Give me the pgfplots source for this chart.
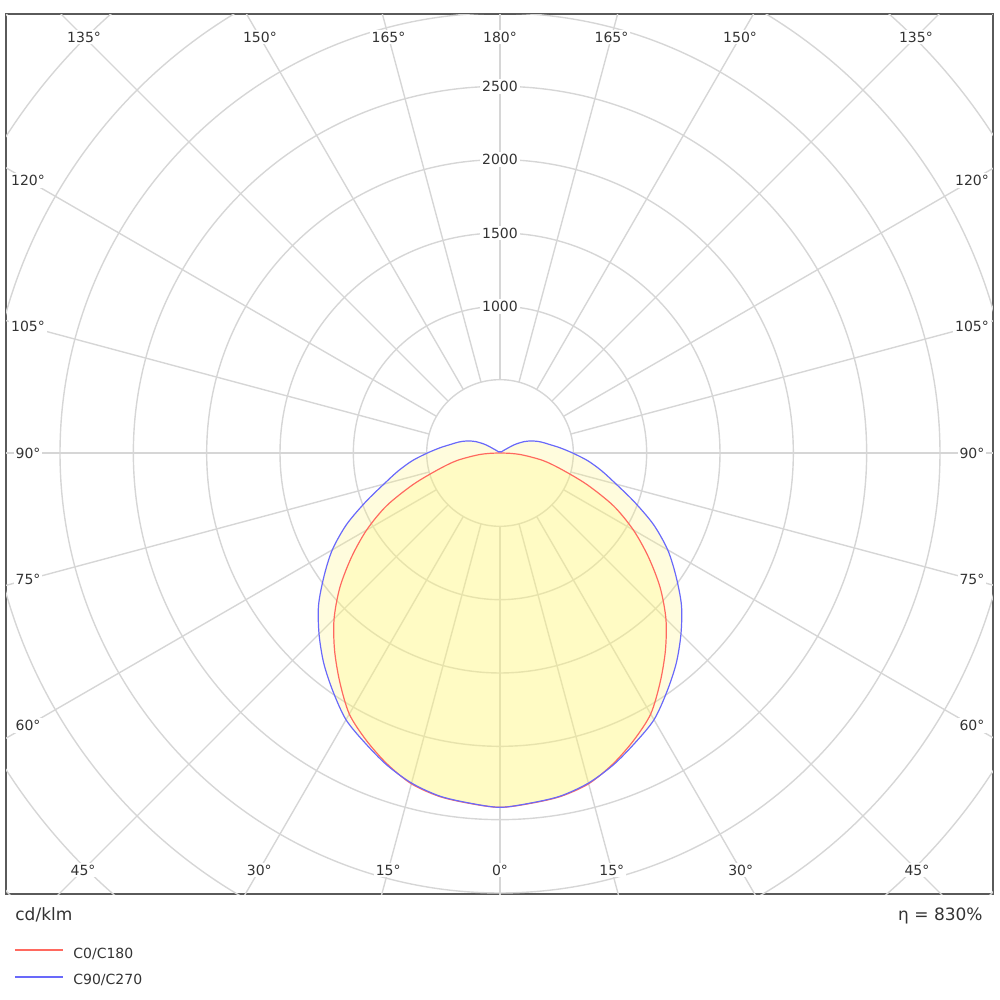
\documentclass[border=0pt]{standalone}
\usepackage{pgfplots}
\pgfplotsset{compat=1.18}
\usepackage{pgfplotstable}
\usepackage{fontspec}
\setmainfont{DejaVu Sans}
\definecolor{gridc}{RGB}{214,214,214}
\definecolor{txtc}{RGB}{51,51,51}
\definecolor{redc}{RGB}{255,105,95}
\definecolor{bluec}{RGB}{105,105,250}
\definecolor{fillc}{RGB}{255,245,120}
\definecolor{framec}{RGB}{90,90,90}
\tikzset{lab/.style={fill=white, inner sep=1pt, text=txtc, font=\fontsize{7pt}{8pt}\selectfont}}

% C0/C180, angle t from nadir (signed: left side negative), I in cd/klm
\pgfplotstableread{
t I
-90 0
-88 68
-85 155
-80 300
-75 437
-70 633
-65 855
-60 1050
-55 1235
-50 1425
-45 1600
-40 1755
-35 1905
-30 2055
-25 2160
-20 2255
-15 2335
-10 2378
-5 2398
0 2416
5 2398
10 2378
15 2335
20 2255
25 2160
30 2055
35 1905
40 1755
45 1600
50 1425
55 1235
60 1050
65 855
70 633
75 437
80 300
85 155
88 68
90 0
}\reddata

% C90/C270
\pgfplotstableread{
t I
-180 9
-165 9
-150 9
-140 9
-130 12
-125 30
-120 113
-115 185
-110 240
-105 290
-100 340
-95 410
-90 495
-85 600
-80 705
-75 820
-70 975
-65 1155
-60 1320
-55 1465
-50 1615
-45 1745
-40 1870
-35 1985
-30 2100
-25 2180
-20 2262
-15 2330
-10 2375
-5 2396
0 2416
5 2396
10 2375
15 2330
20 2262
25 2180
30 2100
35 1985
40 1870
45 1745
50 1615
55 1465
60 1320
65 1155
70 975
75 820
80 705
85 600
90 495
95 410
100 340
105 290
110 240
115 185
120 113
125 30
130 12
140 9
150 9
165 9
180 9
}\bluedata

\begin{document}
\begin{tikzpicture}
\useasboundingbox (-250pt,-273.5pt) rectangle (250pt,226.5pt);
\begin{axis}[
  anchor=origin, at={(0pt,0pt)},
  x=0.073333pt, y=0.073333pt,
  xmin=-3368, xmax=3361, ymin=-3007, ymax=2993,
  xtick=\empty, ytick=\empty,
  axis line style={draw=framec, line width=1pt},
]
\pgfplotsinvokeforeach{500,1000,...,4500}{\draw[gridc, line width=0.7pt] (axis cs:0,0) circle[radius=#1];}
\pgfplotsinvokeforeach{0,15,...,345}{\draw[gridc, line width=0.7pt] (axis cs:{500*cos(#1)},{500*sin(#1)}) -- (axis cs:{6000*cos(#1)},{6000*sin(#1)});}

\addplot[draw=none, fill=fillc, fill opacity=0.25, data cs=polar, smooth, forget plot]
  table[x expr=\thisrow{t}-90, y=I] {\bluedata};
\addplot[draw=none, fill=fillc, fill opacity=0.25, data cs=polar, smooth, forget plot]
  table[x expr=\thisrow{t}-90, y=I] {\reddata};
\addplot[draw=redc, line width=0.6pt, data cs=polar, smooth, forget plot]
  table[x expr=\thisrow{t}-90, y=I] {\reddata};
\addplot[draw=bluec, line width=0.6pt, data cs=polar, smooth, forget plot]
  table[x expr=\thisrow{t}-90, y=I] {\bluedata};

\node[lab] at (axis cs:-2836,2836) {135°};
\node[lab] at (axis cs:-1637,2836) {150°};
\node[lab] at (axis cs:-760,2836) {165°};
\node[lab] at (axis cs:0,2836) {180°};
\node[lab] at (axis cs:760,2836) {165°};
\node[lab] at (axis cs:1637,2836) {150°};
\node[lab] at (axis cs:2836,2836) {135°};
\node[lab] at (axis cs:-3218,1858) {120°};
\node[lab] at (axis cs:-3218,862) {105°};
\node[lab] at (axis cs:-3218,0) {90°};
\node[lab] at (axis cs:-3218,-862) {75°};
\node[lab] at (axis cs:-3218,-1858) {60°};
\node[lab] at (axis cs:3218,1858) {120°};
\node[lab] at (axis cs:3218,862) {105°};
\node[lab] at (axis cs:3218,0) {90°};
\node[lab] at (axis cs:3218,-862) {75°};
\node[lab] at (axis cs:3218,-1858) {60°};
\node[lab] at (axis cs:-2843,-2843) {45°};
\node[lab] at (axis cs:-1641,-2843) {30°};
\node[lab] at (axis cs:-762,-2843) {15°};
\node[lab] at (axis cs:0,-2843) {0°};
\node[lab] at (axis cs:762,-2843) {15°};
\node[lab] at (axis cs:1641,-2843) {30°};
\node[lab] at (axis cs:2843,-2843) {45°};
\node[lab] at (axis cs:0,1000) {1000};
\node[lab] at (axis cs:0,1500) {1500};
\node[lab] at (axis cs:0,2000) {2000};
\node[lab] at (axis cs:0,2500) {2500};
\end{axis}
\node[anchor=base west, inner sep=0pt, font=\fontsize{8.5pt}{10pt}\selectfont, text=txtc] at (-242.5pt,-233.8pt) {cd/klm};
\node[anchor=base east, inner sep=0pt, font=\fontsize{8.5pt}{10pt}\selectfont, text=txtc] at (241.5pt,-233.5pt) {η = 830\%};
% legend
\draw[redc, line width=0.7pt] (-242.5pt,-248.5pt) -- (-218.5pt,-248.5pt);
\draw[bluec, line width=0.7pt] (-242.5pt,-262pt) -- (-218.5pt,-262pt);
\node[anchor=base west, inner sep=0pt, font=\fontsize{7pt}{8pt}\selectfont, text=txtc] at (-213.5pt,-252.5pt) {C0/C180};
\node[anchor=base west, inner sep=0pt, font=\fontsize{7pt}{8pt}\selectfont, text=txtc] at (-213.5pt,-265.8pt) {C90/C270};
\end{tikzpicture}
\end{document}
